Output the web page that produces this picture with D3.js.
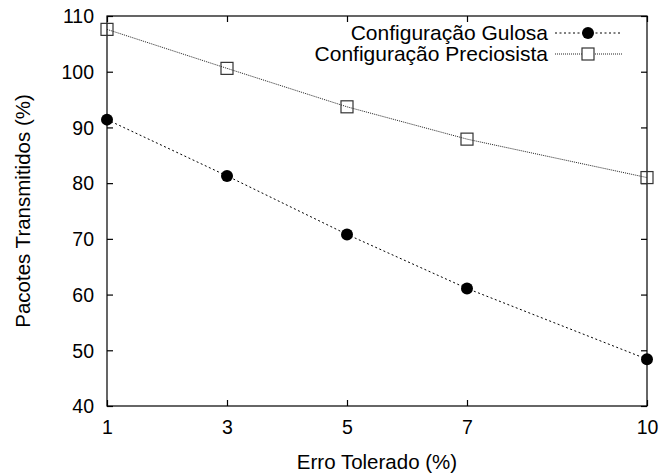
<!DOCTYPE html>
<html>
<head>
<meta charset="utf-8">
<script src="https://cdn.jsdelivr.net/npm/d3@7"></script>
<style>
  html, body { margin: 0; padding: 0; background: #fff; }
  svg { display: block; }
  text { font-family: "Liberation Sans", Arial, Helvetica, sans-serif; fill: #000; }
</style>
</head>
<body>
<svg id="chart" width="661" height="473"></svg>
<script>
// Tolerated error (%) on the x axis
const erro = [1, 3, 5, 7, 10];
// Transmitted packets (%) for each configuration
const gulosa = [91.4, 81.3, 70.8, 61.1, 48.4];
const preciosista = [107.6, 100.6, 93.7, 87.9, 81.0];
const seriesNames = ["Configuração Gulosa", "Configuração Preciosista"];
const xTicks = [1, 3, 5, 7, 10];
const yTicks = [40, 50, 60, 70, 80, 90, 100, 110];

const svg = d3.select("#chart");
const margin = { left: 107, right: 14, top: 16, bottom: 67 };
const W = 661, H = 473;
const x = d3.scaleLinear().domain([1, 10]).range([margin.left, W - margin.right]);
const y = d3.scaleLinear().domain([40, 110]).range([H - margin.bottom, margin.top]);
const fs = 19.5;
const tick = 6;

// Frame
const g = svg.append("g");
g.append("rect")
  .attr("x", x(1)).attr("y", y(110))
  .attr("width", x(10) - x(1)).attr("height", y(40) - y(110))
  .attr("fill", "none").attr("stroke", "#000").attr("stroke-width", 1.2);

// Axes with inward ticks, mirrored on opposite sides
const axB = d3.axisBottom(x).tickValues(xTicks).tickSize(-tick).tickPadding(14);
const axT = d3.axisTop(x).tickValues(xTicks).tickSize(-tick).tickFormat("");
const axL = d3.axisLeft(y).tickValues(yTicks).tickSize(-tick).tickPadding(13);
const axR = d3.axisRight(y).tickValues(yTicks).tickSize(-tick).tickFormat("");

function styleAxis(sel) {
  sel.select(".domain").remove();
  sel.selectAll(".tick line").attr("stroke", "#000").attr("stroke-width", 1.2);
  sel.selectAll(".tick text").style("font-size", fs + "px").attr("fill", "#000")
     .style("font-family", '"Liberation Sans", Arial, sans-serif');
}
g.append("g").attr("transform", `translate(0,${y(40)})`).call(axB).call(styleAxis);
g.append("g").attr("transform", `translate(0,${y(110)})`).call(axT).call(styleAxis);
g.append("g").attr("transform", `translate(${x(1)},0)`).call(axL).call(styleAxis)
  .selectAll(".tick text").attr("dy", "0.35em");
g.append("g").attr("transform", `translate(${x(10)},0)`).call(axR).call(styleAxis);

// Axis titles
svg.append("text")
  .attr("x", (x(1) + x(10)) / 2).attr("y", 469)
  .attr("text-anchor", "middle").style("font-size", "20.5px")
  .text("Erro Tolerado (%)");
svg.append("text")
  .attr("transform", `translate(30,${(y(40) + y(110)) / 2}) rotate(-90)`)
  .attr("text-anchor", "middle").style("font-size", "20.5px")
  .text("Pacotes Transmitidos (%)");

const line = d3.line().x(d => x(d[0])).y(d => y(d[1]));
const gData = erro.map((e, i) => [e, gulosa[i]]);
const pData = erro.map((e, i) => [e, preciosista[i]]);

// Preciosista series: fine dotted line, open squares
svg.append("path").datum(pData).attr("d", line)
  .attr("fill", "none").attr("stroke", "#222").attr("stroke-width", 1)
  .attr("stroke-dasharray", "1,1");
const sq = 12;
svg.selectAll(".sq").data(pData).join("rect")
  .attr("x", d => x(d[0]) - sq / 2).attr("y", d => y(d[1]) - sq / 2)
  .attr("width", sq).attr("height", sq)
  .attr("fill", "none").attr("stroke", "#333").attr("stroke-width", 1.2);

// Gulosa series: dotted line, filled circles
svg.append("path").datum(gData).attr("d", line)
  .attr("fill", "none").attr("stroke", "#000").attr("stroke-width", 1)
  .attr("stroke-dasharray", "2,2.5");
svg.selectAll(".dot").data(gData).join("circle")
  .attr("cx", d => x(d[0])).attr("cy", d => y(d[1])).attr("r", 6)
  .attr("fill", "#000");

// Legend
const legX = 548, lineX0 = 555, lineX1 = 622, markX = 588;
const rows = [
  { name: seriesNames[0], yy: 33, dash: "2,2.5", color: "#000", mark: "circle" },
  { name: seriesNames[1], yy: 54, dash: "1,1", color: "#222", mark: "square" }
];
rows.forEach(r => {
  svg.append("text").attr("x", legX).attr("y", r.yy).attr("dy", "0.35em")
    .attr("text-anchor", "end").style("font-size", "21px").text(r.name);
  svg.append("line").attr("x1", lineX0).attr("x2", lineX1).attr("y1", r.yy).attr("y2", r.yy)
    .attr("stroke", r.color).attr("stroke-width", 1).attr("stroke-dasharray", r.dash);
  if (r.mark === "circle") {
    svg.append("circle").attr("cx", markX).attr("cy", r.yy).attr("r", 6).attr("fill", "#000");
  } else {
    svg.append("rect").attr("x", markX - sq / 2).attr("y", r.yy - sq / 2)
      .attr("width", sq).attr("height", sq).attr("fill", "#fff")
      .attr("stroke", "#333").attr("stroke-width", 1.2);
  }
});
</script>
</body>
</html>
